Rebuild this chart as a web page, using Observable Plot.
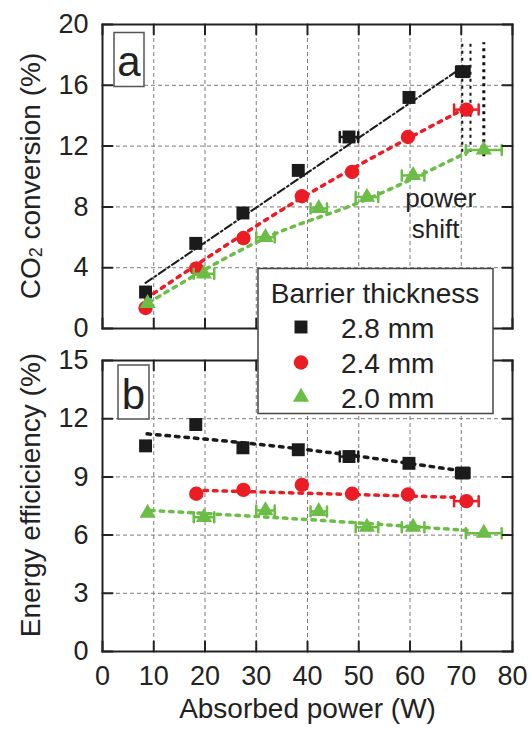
<!DOCTYPE html>
<html><head><meta charset="utf-8">
<script src="https://cdn.jsdelivr.net/npm/d3@7"></script>
<script src="https://cdn.jsdelivr.net/npm/@observablehq/plot@0.6"></script>
<style>
body{margin:0;background:#fff;}
#wrap{position:relative;width:532px;height:729px;font-family:"Liberation Sans",Arial,sans-serif;}
#wrap > svg{position:absolute;left:0;}
</style></head><body><div id="wrap"></div>
<script>
// ---------- data ----------
const seriesNames = ["2.8 mm", "2.4 mm", "2.0 mm"];
const seriesColors = ["#1b1b1b", "#ec1c24", "#6abd45"];
const seriesSymbols = ["square", "circle", "triangle"];
const seriesR = [7.3, 7.2, 6];

const power28 = [8.4, 18.2, 27.4, 38.2, 48.1, 59.8, 70.3];
const power24 = [8.4, 18.3, 27.5, 38.9, 48.7, 59.6, 71.0];
const power20 = [8.8, 19.8, 31.8, 42.2, 51.6, 60.6, 74.4];

const conv28 = [2.4, 5.6, 7.6, 10.4, 12.6, 15.2, 16.9];
const conv24 = [1.35, 3.95, 5.95, 8.7, 10.3, 12.6, 14.4];
const conv20 = [1.65, 3.6, 6.0, 7.9, 8.65, 10.07, 11.75];

const eff28 = [10.6, 11.7, 10.5, 10.4, 10.05, 9.7, 9.2];
const eff24 = [null, 8.13, 8.33, 8.59, 8.13, 8.09, 7.75];
const eff20 = [7.13, 6.92, 7.27, 7.22, 6.41, 6.41, 6.1];

const powerErr28 = [0.4, 0.4, 0.4, 0.4, 1.8, 0.4, 1.3];
const powerErr24 = [0.3, 0.3, 0.3, 0.3, 0.3, 0.3, 2.4];
const powerErr20 = [0.5, 2.0, 1.8, 1.6, 2.2, 2.2, 3.5];

// fitted trend lines
const fitA28x = [8.4, 70.3],            fitA28y = [3.0, 17.2];
const fitA24x = [8.4, 38.9, 69.2],      fitA24y = [1.95, 8.6, 14.2];
const fitA20x = [9.0, 31.8, 51.6, 71.2], fitA20y = [1.7, 5.95, 8.5, 11.6];
const fitB28x = [8.7, 38.3, 69.5],      fitB28y = [11.22, 10.45, 9.33];
const fitB24x = [19.8, 68.9],           fitB24y = [8.3, 7.95];
const fitB20x = [9.4, 40, 71.2],        fitB20y = [7.27, 6.8, 6.24];

// power-shift markers
const shiftX = [70.2, 71.8, 74.4];
const shiftTop = [18.8, 18.8, 18.8];
const shiftBottom = [11.6, 11.6, 11.3];
const shiftWidth = [2, 2, 3];
const annotText = ["power", "shift"];
const annotX = [66, 65];
const annotY = [8.55, 6.5];

const xTicks = [0, 10, 20, 30, 40, 50, 60, 70, 80];
const xGrid = [10, 20, 30, 40, 50, 60, 70];
const yTicksA = [0, 4, 8, 12, 16, 20];
const yGridA = [4, 8, 12, 16];
const yTicksB = [0, 3, 6, 9, 12, 15];
const yGridB = [3, 6, 9, 12];

const xLabel = "Absorbed power (W)";
const yLabelA = ["CO", "2", " conversion (%)"];
const yLabelB = "Energy efficiciency (%)";
const legendTitle = "Barrier thickness";
const panelLabels = ["a", "b"];

// ---------- helpers ----------
const powers = [power28, power24, power20];
const errs = [powerErr28, powerErr24, powerErr20];
function rows(vals) {
  return vals.flatMap((v, s) => v.map((y, i) => ({s, x: powers[s][i], y, e: errs[s][i]})).filter(d => d.y != null));
}
const rowsA = rows([conv28, conv24, conv20]);
const rowsB = rows([eff28, eff24, eff20]);
const fitRows = (xs, ys) => xs.map((x, i) => ({x, y: ys[i]}));
const fitsA = [fitRows(fitA28x, fitA28y), fitRows(fitA24x, fitA24y), fitRows(fitA20x, fitA20y)];
const fitsB = [fitRows(fitB28x, fitB28y), fitRows(fitB24x, fitB24y), fitRows(fitB20x, fitB20y)];

const lineShape = {draw(ctx, l) { ctx.moveTo(0, 0); ctx.lineTo(0, -l); }};
const frameColor = "#222";

function frameTicks(yTicks) {
  const o = {length: 10, anchor: "start", shape: lineShape, stroke: frameColor, strokeWidth: 2};
  return [
    Plot.vector(xTicks, {...o, x: d => d, frameAnchor: "bottom", rotate: 0}),
    Plot.vector(xTicks, {...o, x: d => d, frameAnchor: "top", rotate: 180}),
    Plot.vector(yTicks, {...o, y: d => d, frameAnchor: "left", rotate: 90}),
    Plot.vector(yTicks, {...o, y: d => d, frameAnchor: "right", rotate: -90})
  ];
}

function seriesMarks(data, fits, fitStyles) {
  const marks = [];
  fits.forEach((f, s) => {
    marks.push(Plot.line(f, {x: "x", y: "y", stroke: seriesColors[s], curve: "monotone-x", ...fitStyles[s]}));
  });
  [0, 1, 2].forEach(s => {
    const d = data.filter(r => r.s === s);
    const big = d.filter(r => r.e >= 1);
    const c = seriesColors[s];
    marks.push(Plot.ruleY(d, {y: "y", x1: r => r.x - r.e, x2: r => r.x + r.e, stroke: c, strokeWidth: 2.5}));
    marks.push(Plot.vector(big, {x: r => r.x - r.e, y: "y", length: 10, rotate: 0, anchor: "middle", shape: lineShape, stroke: c, strokeWidth: 2.5}));
    marks.push(Plot.vector(big, {x: r => r.x + r.e, y: "y", length: 10, rotate: 0, anchor: "middle", shape: lineShape, stroke: c, strokeWidth: 2.5}));
    marks.push(Plot.dot(d, {x: "x", y: "y", symbol: seriesSymbols[s], fill: c, stroke: "none", r: seriesR[s]}));
  });
  return marks;
}

const style = {fontFamily: "'Liberation Sans', Arial, sans-serif", fontSize: "27px", color: "#222", background: "transparent", overflow: "visible"};
const gridStyle = {stroke: "#7a7a7a", strokeWidth: 1, strokeDasharray: "4,3"};
const dotted = {strokeWidth: 3.5, strokeDasharray: "3.5,6"};

// ---------- panel a ----------
const plotA = Plot.plot({
  width: 532, height: 340,
  marginTop: 24, marginBottom: 12, marginLeft: 102, marginRight: 20,
  x: {domain: [0, 80], axis: null},
  y: {domain: [0, 20], axis: null},
  style,
  marks: [
    Plot.ruleX(xGrid, gridStyle),
    Plot.ruleY(yGridA, gridStyle),
    Plot.ruleX(shiftX.map((x, i) => ({x, y1: shiftBottom[i], y2: shiftTop[i], w: shiftWidth[i]})),
      {x: "x", y1: "y1", y2: "y2", stroke: "#111", strokeWidth: "w", strokeDasharray: "3,4"}),
    ...seriesMarks(rowsA, fitsA, [
      {strokeWidth: 2, strokeDasharray: "8,3,2,3"},
      dotted,
      dotted
    ]),
    Plot.text(annotText.map((t, i) => ({t, x: annotX[i], y: annotY[i]})), {x: "x", y: "y", text: "t", fontSize: 26, fill: "#222"}),
    Plot.frame({stroke: frameColor, strokeWidth: 2}),
    ...frameTicks(yTicksA),
    Plot.axisY({ticks: yTicksA, anchor: "left", tickSize: 0, tickPadding: 14, label: null})
  ]
});
plotA.style.top = "0px";

// ---------- panel b ----------
const plotB = Plot.plot({
  width: 532, height: 389,
  marginTop: 20, marginBottom: 78, marginLeft: 102, marginRight: 20,
  x: {domain: [0, 80], axis: null},
  y: {domain: [0, 15], axis: null},
  style,
  marks: [
    Plot.ruleX(xGrid, gridStyle),
    Plot.ruleY(yGridB, gridStyle),
    ...seriesMarks(rowsB, fitsB, [dotted, dotted, dotted]),
    Plot.frame({stroke: frameColor, strokeWidth: 2}),
    ...frameTicks(yTicksB),
    Plot.axisY({ticks: yTicksB, anchor: "left", tickSize: 0, tickPadding: 14, label: null}),
    Plot.axisX({ticks: xTicks, anchor: "bottom", tickSize: 0, tickPadding: 14, label: null}),
    Plot.text([xLabel], {frameAnchor: "bottom", dy: 66, fontSize: 28, fill: "#222"})
  ]
});
plotB.style.top = "340px";

const wrap = document.getElementById("wrap");
wrap.appendChild(plotA);
wrap.appendChild(plotB);

// y-axis titles
const fam = "'Liberation Sans', Arial, sans-serif";
const tA = d3.select(plotA).append("text")
  .attr("transform", "translate(30,176) rotate(-90)")
  .attr("text-anchor", "middle").attr("dominant-baseline", "central")
  .attr("font-size", 28).attr("font-family", fam).attr("fill", "#222");
tA.append("tspan").text(yLabelA[0]);
tA.append("tspan").attr("font-size", 18).attr("dy", "0.35em").text(yLabelA[1]);
tA.append("tspan").attr("dy", "-0.22em").text(yLabelA[2]);

d3.select(plotB).append("text")
  .attr("transform", "translate(30,155) rotate(-90)")
  .attr("text-anchor", "middle").attr("dominant-baseline", "central")
  .attr("font-size", 28).attr("font-family", fam).attr("fill", "#222")
  .text(yLabelB);

// panel label boxes
function panelBox(svg, x, y, w, h, label) {
  const g = d3.select(svg).append("g");
  g.append("rect").attr("x", x).attr("y", y).attr("width", w).attr("height", h)
    .attr("fill", "#fff").attr("stroke", "#555").attr("stroke-width", 1.5);
  g.append("text").attr("x", x + w / 2).attr("y", y + h / 2 + 2)
    .attr("text-anchor", "middle").attr("dominant-baseline", "central")
    .attr("font-size", 42).attr("font-family", fam).attr("fill", "#222").text(label);
}
panelBox(plotA, 114, 32.5, 30, 54, panelLabels[0]);
panelBox(plotB, 118, 25, 31, 54, panelLabels[1]);

// legend overlay
const leg = d3.select(wrap).append("svg")
  .attr("width", 532).attr("height", 729).style("top", "0px").style("pointer-events", "none");
leg.append("rect").attr("x", 258).attr("y", 268.5).attr("width", 235).attr("height", 145)
  .attr("fill", "#fff").attr("stroke", "#444").attr("stroke-width", 1.5);
leg.append("text").attr("x", 375).attr("y", 293).attr("text-anchor", "middle").attr("dominant-baseline", "central")
  .attr("font-size", 28).attr("font-family", fam).attr("fill", "#222").text(legendTitle);
const symMap = {square: d3.symbolSquare, circle: d3.symbolCircle, triangle: d3.symbolTriangle};
const rowY = [327, 362.5, 397];
seriesNames.forEach((n, i) => {
  leg.append("path")
    .attr("transform", `translate(301,${rowY[i]})`)
    .attr("d", d3.symbol(symMap[seriesSymbols[i]], Math.PI * seriesR[i] * seriesR[i])())
    .attr("fill", seriesColors[i]);
  leg.append("text").attr("x", 341).attr("y", rowY[i] + 1).attr("dominant-baseline", "central")
    .attr("font-size", 28).attr("font-family", fam).attr("fill", "#222").text(n);
});
</script></body></html>
